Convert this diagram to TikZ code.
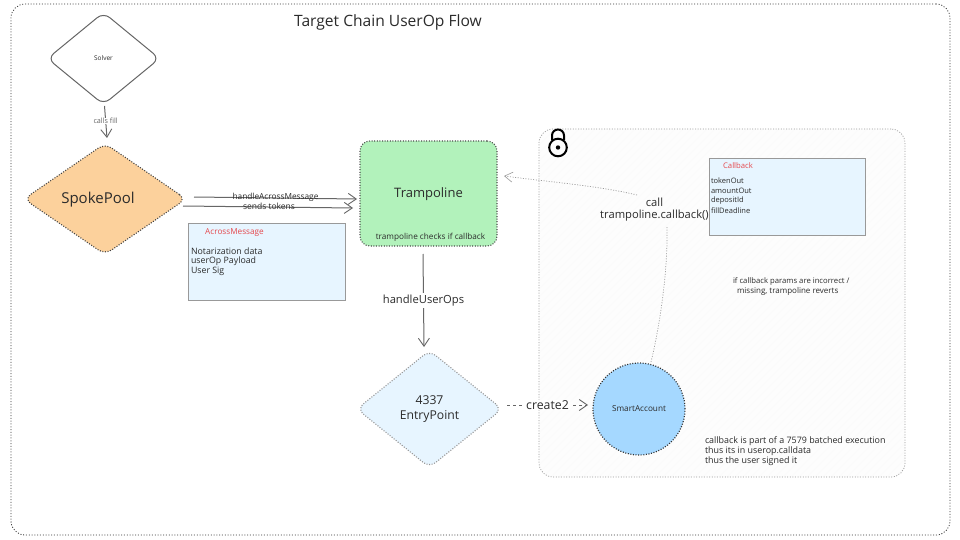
\documentclass[tikz,border=0pt]{standalone}
\usepackage{fontspec}
\setmainfont{Open Sans}
\usetikzlibrary{shapes.geometric,arrows.meta,calc}
\definecolor{inkc}{HTML}{2B2B2B}
\definecolor{linec}{HTML}{666666}
\definecolor{orangef}{HTML}{FCD19C}
\definecolor{greenf}{HTML}{B2F2BB}
\definecolor{bluef}{HTML}{E7F5FF}
\definecolor{bluec}{HTML}{A5D8FF}
\definecolor{redt}{HTML}{E5484D}
\newcommand{\fsz}[1]{\fontsize{#1}{#1}\selectfont}
\tikzset{
  x=1pt,y=-1pt,
  every node/.style={text=inkc,inner sep=0pt,outer sep=0pt,align=center},
  flow/.style={draw=linec,line width=1pt,-{Straight Barb[length=8pt,width=11pt,line width=0.9pt]}},
  thinflow/.style={flow},
  lbl/.style={fill=white,inner xsep=1pt,inner ysep=0.5pt},
  dia/.style={shape=diamond,rounded corners=8pt,inner sep=0pt},
  infobox/.style={draw=gray!80,line width=1pt,fill=bluef,anchor=north west},
  dotborder/.style={draw=#1,line width=1.1pt,dash pattern=on 1pt off 1.6pt},
  listtext/.style={anchor=west,font=\fsz{7.5}},
  listwide/.style={anchor=west,font=\fsz{8.8}},
  boxtitle/.style={text=redt,font=\fsz{7.7}},
  note/.style={anchor=west,font=\fsz{8},align=left},
}
\begin{document}
\begin{tikzpicture}
\useasboundingbox (0,0) rectangle (960,540);
\fill[white] (0,0) rectangle (960,540);
% outer frame
\node[name=frame,anchor=north west,minimum width=939pt,minimum height=531pt,rounded corners=14pt,draw=black!80,line width=0.8pt,dash pattern=on 1pt off 1.8pt] at (11,4) {};
\node[name=title,font=\fsz{15.6}] at (388,22) {Target Chain UserOp Flow};
% group panel
\begin{scope}
\path[clip,rounded corners=14pt] (539,129) rectangle (905,477);
\fill[black!0.8] (539,129) rectangle (905,477);
\foreach \i in {0,8,...,720}{\draw[black!1.4,line width=0.4pt] (539+\i-348,477) -- (539+\i,129);}
\end{scope}
\node[name=group,anchor=north west,minimum width=366pt,minimum height=348pt,rounded corners=14pt,draw=gray!80,line width=0.7pt,dash pattern=on 1pt off 1.6pt] at (539,129) {};
% lock
\draw[black,line width=2pt] (552,140) -- (552,135.5) arc[start angle=180,end angle=360,radius=6] -- (564,140);
\draw[black,line width=2pt] (558,147.5) circle[radius=8.8];
\fill[black] (558,147.5) circle[radius=2.2];
% nodes
\node[name=solver,dia,draw=linec,line width=1pt,fill=white,minimum width=112pt,minimum height=92pt,font=\fsz{6.5}] at (103.5,58.5) {Solver};
\node[name=spoke,dia,dotborder=black!75,fill=orangef,minimum width=162pt,minimum height=111pt] at (105,199) {};
\node[name=spokelabel,font=\fsz{15}] at (98,199.5) {SpokePool};
\node[name=tramp,anchor=north west,rounded corners=10pt,dotborder=black!70,fill=greenf,minimum width=137pt,minimum height=105pt] at (360,141) {};
\node[name=tramplabel,font=\fsz{13}] at (428.5,194) {Trampoline};
\node[name=trampnote,font=\fsz{8.2}] at (430.5,237.5) {trampoline checks if callback};
\node[name=entry,dia,dotborder=gray!85,fill=bluef,minimum width=145pt,minimum height=117pt] at (429.5,409) {};
\node[name=entrylabel,font=\fsz{12.2},align=center] at (429.5,409) {4337\\[3pt]EntryPoint};
\node[name=smart,circle,dotborder=black!80,line width=1.2pt,fill=bluec,minimum size=92pt,font=\fsz{8.2}] at (639,409) {SmartAccount};
% info boxes
\node[name=across,infobox,minimum width=157pt,minimum height=77pt] at (188,223) {};
\node[name=acrosst,boxtitle,font=\fsz{8.2}] at (234.5,233) {AcrossMessage};
\node[name=a1,listwide] at (191,251) {Notarization data};
\node[name=a2,listwide] at (191,261) {userOp Payload};
\node[name=a3,listwide] at (191,271) {User Sig};
\node[name=cb,infobox,minimum width=156pt,minimum height=77pt] at (709,158.5) {};
\node[name=cbt,boxtitle] at (738,166) {Callback};
\node[name=c1,listtext] at (711,181) {tokenOut};
\node[name=c2,listtext] at (711,191) {amountOut};
\node[name=c3,listtext] at (711,201) {depositId};
\node[name=c4,listtext] at (711,211) {fillDeadline};
% notes
\node[name=n1,note,font=\fsz{7.7}] at (733,281) {if callback params are incorrect /};
\node[name=n2,note] at (737,291) {missing, trampoline reverts};
\node[name=n3,note,font=\fsz{8.9}] at (705,441) {callback is part of a 7579 batched execution};
\node[name=n4,note,font=\fsz{8.9}] at (705,451) {thus its in userop.calldata};
\node[name=n5,note,font=\fsz{8.9}] at (705,461) {thus the user signed it};
\node[name=calllabel,font=\fsz{11.2},align=center] at (654.5,209.5) {call\\[1pt]trampoline.callback()};
% connectors
\coordinate (a1s) at (104.5,106); \coordinate (a1e) at (107,138);
\draw[thinflow] (a1s) -- node[lbl,font=\fsz{7.2},pos=0.47,text=linec]{calls fill} (a1e);
\coordinate (b1s) at (194,197); \coordinate (b1e) at (357,199);
\coordinate (b2s) at (183,206); \coordinate (b2e) at (353,208);
\draw[thinflow] (b1s) -- (b1e);
\draw[thinflow] (b2s) -- (b2e);
\node[name=lb1,font=\fsz{8.3}] at (275.5,197.5) {handleAcrossMessage};
\node[name=lb2,font=\fsz{8.5}] at (269,206) {sends tokens};
\coordinate (c1s) at (423,254); \coordinate (c1e) at (424,347);
\draw[flow] (c1s) -- node[lbl,font=\fsz{11.2},pos=0.5,inner ysep=2pt]{handleUserOps} (c1e);
\coordinate (d1s) at (507,405); \coordinate (d1e) at (588,405);
\draw[flow,dashed] (d1s) -- node[lbl,font=\fsz{12.3},pos=0.5]{create2} (d1e);
\coordinate (e1s) at (651,362); \coordinate (e1m) at (667,227);
\draw[draw=gray!80,line width=0.7pt,dash pattern=on 1pt off 1.6pt] (e1s) .. controls (660,325) and (668,270) .. (e1m);
\coordinate (f1s) at (637,195); \coordinate (f1e) at (504,176);
\draw[draw=gray!80,line width=0.7pt,dash pattern=on 1pt off 1.6pt,-{Straight Barb[length=8pt,width=10pt,line width=0.6pt]}] (f1s) .. controls (600,186) and (550,182) .. (f1e);
\end{tikzpicture}
\end{document}
